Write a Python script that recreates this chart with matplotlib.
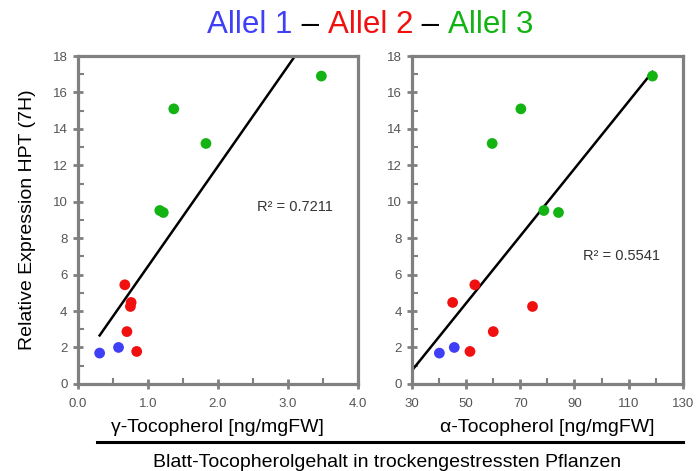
import numpy as np
import matplotlib
matplotlib.use("Agg")
import matplotlib.pyplot as plt
from matplotlib.lines import Line2D
from matplotlib.ticker import MultipleLocator, FixedLocator

plt.rcParams["font.family"] = ["Liberation Sans", "DejaVu Sans"]

# expression HPT (7H), same for both panels
allel1_y = [1.69, 2.0]
allel2_y = [5.44, 4.47, 4.25, 2.87, 1.78]
allel3_y = [16.9, 15.1, 13.2, 9.52, 9.41]

# gamma-tocopherol [ng/mgFW]
gamma_allel1 = [0.31, 0.58]
gamma_allel2 = [0.67, 0.76, 0.75, 0.70, 0.84]
gamma_allel3 = [3.48, 1.37, 1.83, 1.17, 1.22]

# alpha-tocopherol [ng/mgFW]
alpha_allel1 = [40.1, 45.6]
alpha_allel2 = [53.2, 45.0, 74.5, 60.0, 51.4]
alpha_allel3 = [118.8, 70.2, 59.6, 78.7, 84.1]

r2_labels = ["R² = 0.7211", "R² = 0.5541"]

BLUE = "#3f3ff5"
RED = "#f01010"
GREEN = "#12b312"
GRAY = "#808080"

fig = plt.figure(figsize=(6.96, 4.71), dpi=100)
ax1 = fig.add_axes([0.112, 0.185, 0.402, 0.696])
ax2 = fig.add_axes([0.592, 0.185, 0.389, 0.696])


def style(ax, xlim, xmajor, xminor, fmt):
    ax.set_xlim(*xlim)
    ax.set_ylim(0, 18)
    ax.xaxis.set_major_locator(FixedLocator(xmajor))
    ax.xaxis.set_minor_locator(FixedLocator(xminor))
    ax.yaxis.set_major_locator(MultipleLocator(2))
    ax.yaxis.set_minor_locator(MultipleLocator(1))
    ax.xaxis.set_major_formatter(fmt)
    for sp in ax.spines.values():
        sp.set_color(GRAY)
        sp.set_linewidth(2.3)
    ax.tick_params(which="major", direction="inout", length=7, width=2,
                   color=GRAY, labelsize=9.5, labelcolor="#555555", pad=4)
    ax.tick_params(axis="x", which="major", pad=7)
    ax.tick_params(which="minor", direction="in", length=4, width=1.5, color=GRAY)


def scatter_trend(ax, xs, ys, x_from):
    xall = np.concatenate([np.asarray(v) for v in xs])
    yall = np.concatenate([np.asarray(v) for v in ys])
    k, d = np.polyfit(xall, yall, 1)
    x0 = xall.min() if x_from is None else x_from
    xl = np.array([x0, xall.max()])
    ax.plot(xl, k * xl + d, color="black", lw=1.8, zorder=2)
    for x, y, c in zip(xs, ys, [BLUE, RED, GREEN]):
        ax.scatter(x, y, s=60, color=c, edgecolors="none", zorder=3)


style(ax1, (0, 4.0), np.arange(0, 4.01, 1.0), np.arange(0.5, 4.0, 1.0), "{x:.1f}")
scatter_trend(ax1, [gamma_allel1, gamma_allel2, gamma_allel3],
              [allel1_y, allel2_y, allel3_y], None)
ax1.text(2.56, 9.7, r2_labels[0], fontsize=10.5, color="#333333", va="center")
ax1.set_xlabel("γ-Tocopherol [ng/mgFW]", fontsize=14, labelpad=6)
ax1.set_ylabel("Relative Expression HPT (7H)", fontsize=14, labelpad=12)

style(ax2, (30, 130), np.arange(30, 131, 20), np.arange(40, 130, 20), "{x:.0f}")
scatter_trend(ax2, [alpha_allel1, alpha_allel2, alpha_allel3],
              [allel1_y, allel2_y, allel3_y], 30)
ax2.text(93.1, 7.0, r2_labels[1], fontsize=10.5, color="#333333", va="center")
ax2.set_xlabel("α-Tocopherol [ng/mgFW]", fontsize=14, labelpad=6)

# title with coloured parts
parts = [("Allel 1", BLUE), (" – ", "black"), ("Allel 2", RED), (" – ", "black"), ("Allel 3", GREEN)]
fig.canvas.draw()
renderer = fig.canvas.get_renderer()
texts = []
for s, c in parts:
    t = fig.text(0, 0.947, s, color=c, fontsize=22.5, va="center", ha="left")
    texts.append(t)
widths = [t.get_window_extent(renderer).width / fig.bbox.width for t in texts]
x = 0.532 - sum(widths) / 2
for t, w in zip(texts, widths):
    t.set_x(x)
    x += w

fig.add_artist(Line2D([0.139, 0.981], [0.062, 0.062], color="black", lw=2.2,
                      transform=fig.transFigure))
fig.text(0.556, 0.018, "Blatt-Tocopherolgehalt in trockengestressten Pflanzen",
         fontsize=14, ha="center", va="center")

fig.savefig("out.png", dpi=100)
